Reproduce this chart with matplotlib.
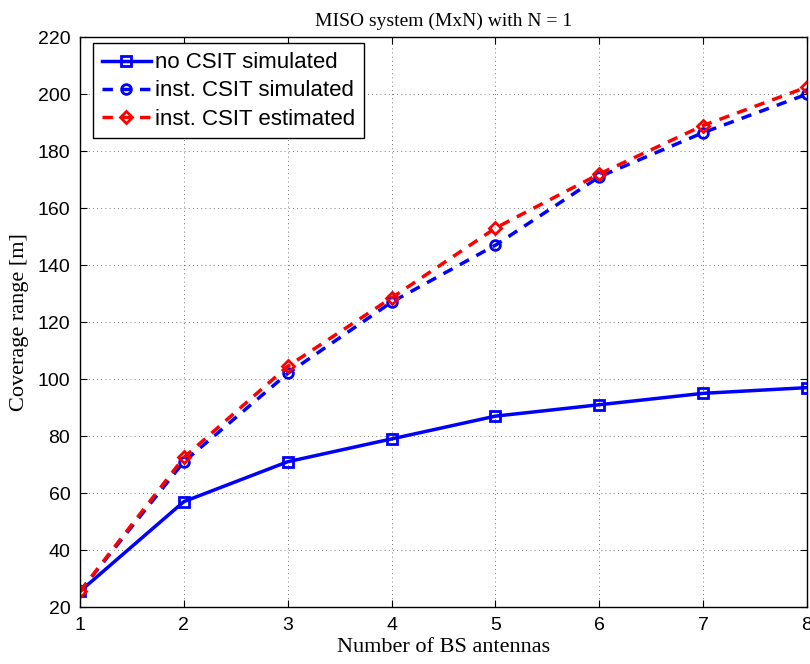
import matplotlib
matplotlib.use("Agg")
import matplotlib.pyplot as plt

antennas = [1, 2, 3, 4, 5, 6, 7, 8]
no_csit_sim = [25.5, 57, 71, 79, 87, 91, 95, 97]
inst_csit_sim = [25.5, 71, 102, 127, 147, 171, 186.5, 200]
inst_csit_est = [25.5, 72.5, 104.5, 128.5, 153, 172, 189, 202.5]

fig = plt.figure(figsize=(8.1, 6.64), dpi=100)
ax = fig.add_axes([0.0988, 0.0858, 0.8975, 0.8582])

ax.plot(antennas, no_csit_sim, "-s", color="blue", lw=2.5, ms=7, mfc="none", mew=2,
        label="no CSIT simulated")
ax.plot(antennas, inst_csit_sim, "--o", color="blue", lw=2.5, ms=7, mfc="none", mew=2,
        dashes=(3, 2.4), label="inst. CSIT simulated")
ax.plot(antennas, inst_csit_est, "--D", color="red", lw=2.5, ms=6, mfc="none", mew=2,
        dashes=(3, 2.4), label="inst. CSIT estimated")

ax.set_xlim(1, 8)
ax.set_ylim(20, 220)
ax.set_xticks(antennas)
ax.set_yticks(range(20, 221, 20))
ax.grid(True, color="black", ls=(0, (1, 4)), lw=0.6, alpha=0.7)
ax.tick_params(direction="in", labelsize=14, length=5, pad=7, top=True, right=True)
for lbl in ax.get_xticklabels() + ax.get_yticklabels():
    lbl.set_family("Liberation Sans")
for sp in ax.spines.values():
    sp.set_linewidth(1.0)

ax.set_xlabel("Number of BS antennas", family="Liberation Serif", fontsize=16, labelpad=3)
ax.set_ylabel("Coverage range [m]", family="Liberation Serif", fontsize=16, labelpad=6)
ax.set_title("MISO system (MxN) with N = 1", family="Liberation Serif", fontsize=14, pad=8)

leg = ax.legend(loc="upper left", prop={"family": "Liberation Sans", "size": 16},
                fancybox=False, framealpha=1, edgecolor="black",
                bbox_to_anchor=(0.018, 0.989), borderaxespad=0.0,
                handlelength=2.2, labelspacing=0.32, borderpad=0.4, handletextpad=0.2)
leg.get_frame().set_linewidth(1.0)

fig.savefig("out.png", dpi=100)
